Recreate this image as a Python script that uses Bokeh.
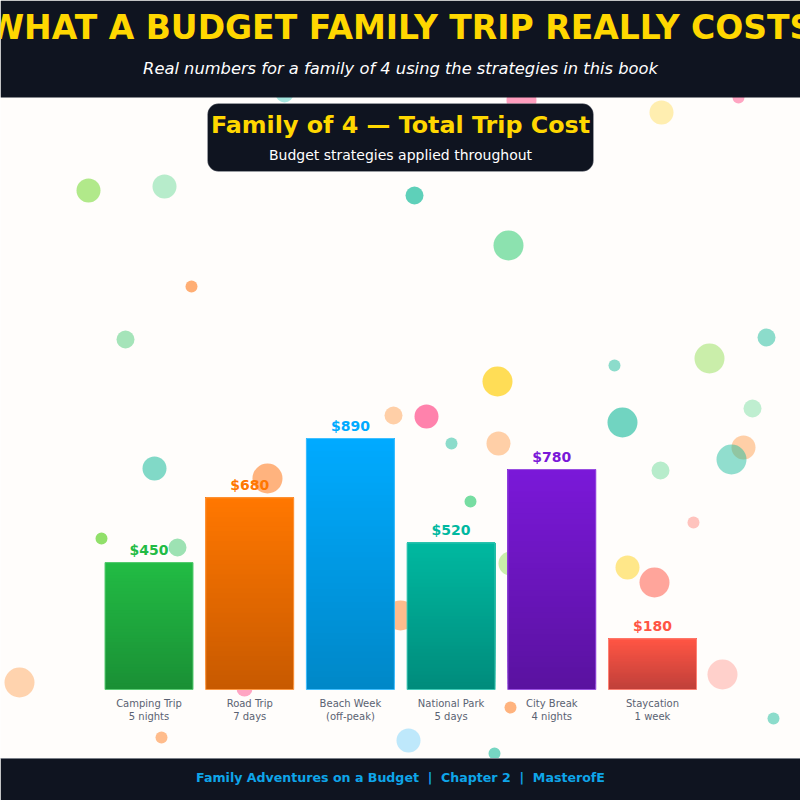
from bokeh.plotting import figure
from bokeh.models import Range1d, BoxAnnotation, Label
from bokeh.core.properties import value
from bokeh.embed import file_html
from bokeh.resources import INLINE

# ---------------- data ----------------
trips = ["Camping Trip", "Road Trip", "Beach Week", "National Park", "City Break", "Staycation"]
durations = ["5 nights", "7 days", "(off-peak)", "5 days", "4 nights", "1 week"]
costs = [450, 680, 890, 520, 780, 180]
top_colors = ["#22bb44", "#ff7700", "#00aaff", "#00b8a0", "#7a18d8", "#ff5544"]
bottom_colors = ["#1a9035", "#c85a00", "#0088c8", "#008c7c", "#5a12a0", "#c0403a"]

title = "WHAT A BUDGET FAMILY TRIP REALLY COSTS"
subtitle = "Real numbers for a family of 4 using the strategies in this book"
box_title = "Family of 4 \u2014 Total Trip Cost"
box_sub = "Budget strategies applied throughout"
footer = "Family Adventures on a Budget\u00a0\u00a0|\u00a0\u00a0Chapter 2\u00a0\u00a0|\u00a0\u00a0MasterofE"

# decorative confetti (page pixels): x, y, radius, colour, alpha
conf_x = [88, 164, 191, 125, 284, 521, 661, 738, 414, 508, 766, 709, 614, 622, 752, 743, 731, 660,
          693, 627, 654, 154, 267, 101, 177, 393, 400, 244, 451, 498, 470, 510, 510, 426, 497,
          19, 722, 161, 408, 494, 773]
conf_y = [190, 186, 286, 339, 93, 100, 112, 97, 195, 245, 337, 358, 365, 422, 408, 447, 459, 470,
          522, 567, 582, 468, 478, 538, 547, 415, 615, 688, 443, 443, 501, 563, 707, 416, 381,
          682, 674, 737, 740, 753, 718]
conf_r = [12, 12, 6, 9, 9, 15, 12, 6, 9, 15, 9, 15, 6, 15, 9, 12, 15, 9,
          6, 12, 15, 12, 15, 6, 9, 9, 15, 8, 6, 12, 6, 12, 6, 12, 15,
          15, 15, 6, 12, 6, 6]
conf_c = ["#7ddc3f", "#5fd690", "#ff8c3a", "#4ccc78", "#4fd1c5", "#ff6b9d", "#ffe066", "#ff6b9d",
          "#1abc9c", "#2ecc71", "#1abc9c", "#95e05a", "#1abc9c", "#1abc9c", "#5fd690", "#ffb070",
          "#1abc9c", "#5fd690", "#ff8a80", "#ffd93d", "#ff6b5b", "#1abc9c", "#ff8c3a", "#6cd63a",
          "#4ccc78", "#ffb070", "#ff9a50", "#ff6b9d", "#1abc9c", "#ffb070", "#2ecc71", "#95e05a",
          "#ff8c3a", "#ff4d8a", "#ffd21f", "#ffb070", "#ff9a90", "#ff9a50", "#7dd3fc", "#1abc9c",
          "#1abc9c"]
conf_a = [0.6, 0.45, 0.7, 0.5, 0.5, 0.65, 0.5, 0.6, 0.7, 0.55, 0.5, 0.5, 0.5, 0.62, 0.4, 0.6,
          0.48, 0.45, 0.5, 0.6, 0.6, 0.55, 0.65, 0.75, 0.55, 0.6, 0.65, 0.6, 0.5, 0.6, 0.65, 0.5,
          0.65, 0.7, 0.75, 0.55, 0.45, 0.65, 0.5, 0.6, 0.5]

# ---------------- layout constants ----------------
W = H = 800
slot = 100.7          # px between bar centres
first_centre = 148.5  # px
baseline_px = 689
px_per_dollar = 0.282
bar_w = 88 / slot

x0 = -first_centre / slot
x1 = (W - first_centre) / slot
y0 = -(H - baseline_px) / px_per_dollar
y1 = baseline_px / px_per_dollar

BG = "#fffdfb"
DARK = "#0f1420"
FONT = value("DejaVu Sans")

p = figure(width=W, height=H, x_range=Range1d(x0, x1), y_range=Range1d(y0, y1),
           output_backend="svg", toolbar_location=None, min_border=0,
           background_fill_color=BG, border_fill_color=BG, outline_line_color=None)
p.xaxis.visible = False
p.yaxis.visible = False
p.grid.visible = False
p.extra_x_ranges = {"px": Range1d(0, W)}
p.extra_y_ranges = {"px": Range1d(H, 0)}
PX = dict(x_range_name="px", y_range_name="px")

# confetti (behind everything)
p.scatter(x=conf_x, y=conf_y, size=[2 * r for r in conf_r], fill_color=conf_c,
          fill_alpha=conf_a, line_color=None, marker="circle", **PX)


def mix(c1, c2, t):
    a = [int(c1[i:i + 2], 16) for i in (1, 3, 5)]
    b = [int(c2[i:i + 2], 16) for i in (1, 3, 5)]
    return "#%02x%02x%02x" % tuple(round(a[k] + (b[k] - a[k]) * t) for k in range(3))


# gradient bars
N = 40
xs = list(range(len(costs)))
for i, (v, ct, cb) in enumerate(zip(costs, top_colors, bottom_colors)):
    lefts, rights, bottoms, tops, cols = [], [], [], [], []
    for k in range(N):
        lefts.append(i - bar_w / 2)
        rights.append(i + bar_w / 2)
        bottoms.append(v * k / N)
        tops.append(v)
        cols.append(mix(cb, ct, k / (N - 1)))
    p.quad(left=lefts, right=rights, bottom=bottoms, top=tops, fill_color=cols, line_color=None)
    p.quad(left=[i - bar_w / 2], right=[i + bar_w / 2], bottom=[0], top=[v],
           fill_color=None, line_color=mix(ct, "#ffffff", 0.25), line_width=1)

# value labels
p.text(x=xs, y=costs, text=["$%d" % c for c in costs], text_color=top_colors,
       text_font=FONT, text_font_style="bold", text_font_size="14px",
       text_align="center", text_baseline="middle", y_offset=-13)

# category labels
p.text(x=xs, y=[0] * len(xs), text=trips, text_color="#5a6272", text_font=FONT,
       text_font_size="10px", text_align="center", text_baseline="middle", y_offset=14)
p.text(x=xs, y=[0] * len(xs), text=durations, text_color="#5a6272", text_font=FONT,
       text_font_size="10px", text_align="center", text_baseline="middle", y_offset=27)

# header & footer bands
p.quad(left=[0], right=[W], top=[0], bottom=[97], fill_color=DARK, line_color=None, **PX)
p.quad(left=[0], right=[W], top=[758], bottom=[H], fill_color=DARK, line_color=None, **PX)
p.segment(x0=[0], x1=[W], y0=[758], y1=[758], line_color="#7a7f88", line_width=1, **PX)

p.text(x=[400], y=[27], text=[title], text_color="#ffd700", text_font=FONT,
       text_font_style="bold", text_font_size="33px", text_align="center",
       text_baseline="middle", **PX)
p.text(x=[400], y=[68], text=[subtitle], text_color="#ffffff", text_font=FONT,
       text_font_style="italic", text_font_size="16.3px", text_align="center",
       text_baseline="middle", **PX)
p.text(x=[400], y=[777], text=[footer], text_color="#0ea5e9", text_font=FONT,
       text_font_style="bold", text_font_size="12.6px", text_align="center",
       text_baseline="middle", **PX)

# rounded title box
box = BoxAnnotation(left=207, right=593, top=103, bottom=171, fill_color=DARK, fill_alpha=1,
                    line_color="#c8cad0", line_width=1, border_radius=11, **PX)
p.add_layout(box)
p.add_layout(Label(x=400, y=124, text=box_title, text_color="#ffd700", text_font="DejaVu Sans",
                   text_font_style="bold", text_font_size="23.8px", text_align="center",
                   text_baseline="middle", **PX))
p.add_layout(Label(x=400, y=154, text=box_sub, text_color="#ffffff", text_font="DejaVu Sans",
                   text_font_size="14px", text_align="center", text_baseline="middle", **PX))

open("out.html", "w").write(file_html(p, INLINE))
